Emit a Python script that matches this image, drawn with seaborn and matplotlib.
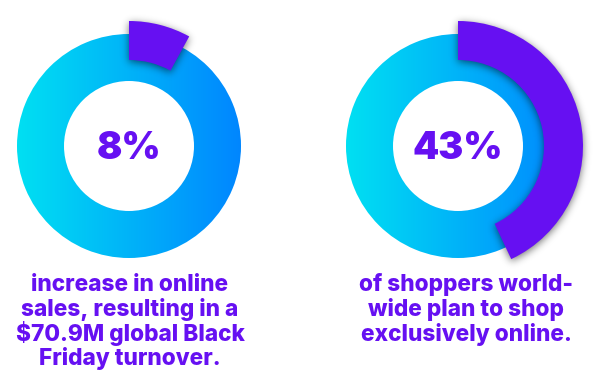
import numpy as np
import matplotlib
matplotlib.use("Agg")
import matplotlib.pyplot as plt
from matplotlib.colors import LinearSegmentedColormap
import seaborn as sns

# ---- data ----
percents = [8, 43]
value_labels = ["8%", "43%"]
captions = [
    ["increase in online", "sales, resulting in a", "$70.9M global Black", "Friday turnover."],
    ["of shoppers world-", "wide plan to shop", "exclusively online."],
]

# ---- style ----
sns.set_theme(style="white")
plt.rcParams['font.family'] = ['Inter', 'DejaVu Sans']
PURPLE = "#6610F2"
ring_cmap = LinearSegmentedColormap.from_list("ring", ["#00E0F2", "#0086FF"])

W, H = 600, 390
fig = plt.figure(figsize=(6, 3.9), dpi=100)
ax = fig.add_axes([0, 0, 1, 1])

centers = [(129, 390 - 146), (458, 390 - 146)]
caption_x = [130, 466]
R_OUT, R_IN = 112, 65
P_OUT, P_IN = 125, 86

yy, xx = np.mgrid[0:H, 0:W] + 0.5
shadow = np.zeros((H, W))

def blur(a, sigma):
    k = np.arange(-int(3 * sigma), int(3 * sigma) + 1)
    g = np.exp(-k ** 2 / (2 * sigma ** 2)); g /= g.sum()
    a = np.apply_along_axis(lambda v: np.convolve(v, g, mode="same"), 0, a)
    a = np.apply_along_axis(lambda v: np.convolve(v, g, mode="same"), 1, a)
    return a

for (cx, cy), p in zip(centers, percents):
    # gradient ring
    ring, _ = ax.pie([100], center=(cx, cy), radius=R_OUT,
                     wedgeprops=dict(width=R_OUT - R_IN, facecolor="none", edgecolor="none"))
    grad = np.linspace(0, 1, 256)[None, :]
    im = ax.imshow(grad, cmap=ring_cmap, aspect="auto",
                   extent=[cx - R_OUT, cx + R_OUT, cy - R_OUT, cy + R_OUT], zorder=1)
    im.set_clip_path(ring[0])
    # shadow mask of purple segment
    dx, dy = xx - cx, yy - cy
    r = np.hypot(dx, dy)
    ang = np.degrees(np.arctan2(dx, dy)) % 360  # clockwise from top
    shadow += ((r >= P_IN) & (r <= P_OUT) & (ang <= p * 3.6)).astype(float)

shadow = blur(shadow, 4.0)
shadow = np.roll(shadow, -2, axis=0)
rgba = np.zeros((H, W, 4))
rgba[..., 3] = np.clip(shadow, 0, 1) * 0.55
ax.imshow(rgba, extent=[0, W, 0, H], origin="lower", aspect="auto", zorder=2)

for (cx, cy), p, lab, cap, tx in zip(centers, percents, value_labels, captions, caption_x):
    wedges, _ = ax.pie([p, 100 - p], center=(cx, cy), radius=P_OUT, startangle=90,
                       counterclock=False,
                       wedgeprops=dict(width=P_OUT - P_IN, edgecolor="none"),
                       colors=[PURPLE, "none"])
    for w in wedges:
        w.set_zorder(3)
    ax.text(cx, cy - 3, lab, ha="center", va="center", fontsize=27,
            fontweight=900, color=PURPLE, zorder=4)
    for i, line in enumerate(cap):
        ax.text(tx, 390 - (285 + 24.5 * i), line, ha="center", va="center",
                fontsize=16.3, fontweight=800, color=PURPLE)

ax.set_xlim(0, W)
ax.set_ylim(0, H)
ax.set_axis_off()
fig.savefig("out.png", dpi=100, facecolor="white")
